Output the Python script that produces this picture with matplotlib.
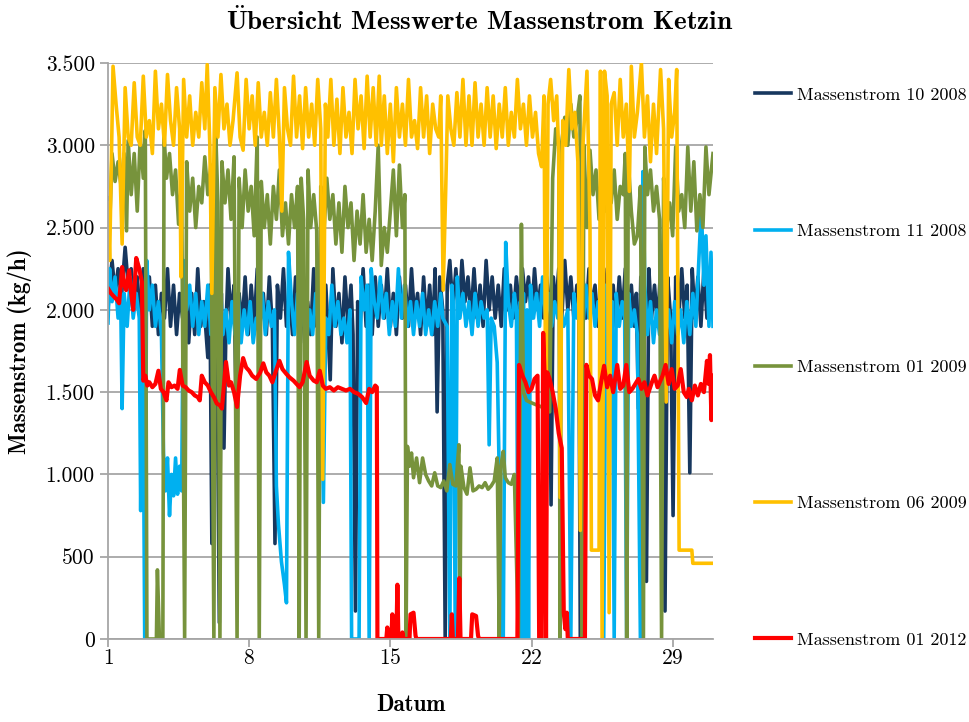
import matplotlib
matplotlib.use('Agg')
import matplotlib.pyplot as plt
from matplotlib.ticker import FixedLocator, MultipleLocator, FuncFormatter

# Schrift wie LaTeX (Computer Modern)
plt.rcParams['font.family'] = ['cmr10', 'DejaVu Serif']
plt.rcParams['mathtext.fontset'] = 'cm'
plt.rcParams['axes.formatter.use_mathtext'] = True

# Massenstrom 10 2008 (dunkelblau)
tage_10_2008 = [1.00, 1.08, 1.20, 1.35, 1.50, 1.65, 1.85, 2.00, 2.15, 2.30, 2.45, 2.60, 2.75, 2.90, 3.05, 3.20,
                3.35, 3.50, 3.65, 3.80, 3.95, 4.10, 4.25, 4.40, 4.55, 4.70, 4.85, 5.00, 5.15, 5.30, 5.45, 5.60,
                5.75, 5.95, 6.05, 6.15, 6.28, 6.40, 6.52, 6.62, 6.75, 6.85, 6.95, 7.10, 7.25, 7.38, 7.50, 7.65,
                7.80, 7.95, 8.10, 8.25, 8.40, 8.55, 8.70, 8.85, 9.00, 9.15, 9.28, 9.40, 9.55, 9.70, 9.85, 10.00,
                10.15, 10.30, 10.45, 10.60, 10.75, 10.90, 11.05, 11.20, 11.35, 11.50, 11.65, 11.80, 11.90, 12.02,
                12.15, 12.30, 12.45, 12.60, 12.75, 12.90, 13.05, 13.15, 13.27, 13.38, 13.50, 13.65, 13.80, 13.95,
                14.10, 14.25, 14.40, 14.55, 14.70, 14.85, 15.00, 15.15, 15.30, 15.45, 15.60, 15.75, 15.90, 16.05,
                16.20, 16.35, 16.50, 16.65, 16.80, 16.95, 17.10, 17.22, 17.32, 17.45, 17.60, 17.72, 17.82, 17.95,
                18.10, 18.25, 18.40, 18.55, 18.70, 18.85, 19.00, 19.15, 19.30, 19.45, 19.60, 19.75, 19.90, 20.05,
                20.20, 20.35, 20.50, 20.65, 20.80, 20.95, 21.10, 21.25, 21.40, 21.55, 21.70, 21.85, 22.00, 22.15,
                22.30, 22.45, 22.60, 22.75, 22.88, 22.97, 23.08, 23.20, 23.35, 23.50, 23.65, 23.80, 23.95, 24.10,
                24.25, 24.35, 24.42, 24.55, 24.70, 24.85, 25.00, 25.15, 25.30, 25.45, 25.60, 25.75, 25.90, 26.05,
                26.20, 26.35, 26.50, 26.65, 26.80, 26.95, 27.10, 27.20, 27.30, 27.42, 27.55, 27.70, 27.82, 27.95,
                28.10, 28.25, 28.40, 28.52, 28.62, 28.75, 28.90, 29.02, 29.15, 29.30, 29.45, 29.60, 29.72, 29.85,
                29.97, 30.10, 30.25, 30.40, 30.55, 30.70, 30.85, 31.00]
werte_10_2008 = [2000, 2150, 2300, 2100, 2250, 2050, 2380, 2150, 2250, 2000, 2200, 1950, 2250, 2050, 2200, 1900,
                 2150, 1850, 2100, 1950, 2250, 1900, 2150, 1850, 2100, 1950, 2200, 1800, 2100, 1850, 2250, 1900,
                 2050, 1710, 2150, 580, 2050, 1900, 100, 2100, 1160, 1900, 2250, 1950, 2150, 1220, 2100, 1900,
                 2200, 1850, 2150, 1900, 2250, 1950, 2100, 1850, 2200, 1900, 580, 2150, 1950, 2250, 1900, 2100,
                 1850, 2200, 1900, 2150, 1800, 2050, 1850, 2250, 1900, 2100, 1850, 2150, 1900, 1575,
                 2250, 1900, 2100, 1800, 2200, 1900, 2150, 1850, 170, 2050, 1900, 2250, 1900, 2150,
                 1850, 2200, 1900, 2150, 1950, 2250, 1900, 2100, 1850, 2200, 1950, 2150, 1900, 2250,
                 1950, 2100, 1850, 2200, 1900, 2150, 1850, 2250, 1380, 2200, 2000, 0, 2150, 2300,
                 2000, 2250, 1950, 2300, 2050, 2200, 1950, 2250, 1950, 2150, 1900, 2300, 2000, 2200,
                 1950, 2150, 1900, 2250, 2000, 2150, 1950, 2200, 2000, 2250, 2050, 2200, 1950, 2250,
                 2000, 2150, 1950, 2200, 2050, 815, 2200, 2000, 2250, 1950, 2300, 2000, 2200, 1950,
                 2150, 1950, 0, 2200, 1950, 2250, 2000, 2150, 1900, 2200, 1950, 2250, 1950, 2150,
                 1900, 2200, 1950, 2250, 1950, 2150, 1900, 2100, 1400, 2200, 2000, 350, 2250, 1950,
                 2150, 1900, 2250, 2100, 170, 2200, 1950, 750, 2200, 1950, 2250, 1950, 2150, 1010,
                 2250, 1950, 2200, 1900, 2250, 1950, 2150, 2100]

# Massenstrom 11 2008 (hellblau)
tage_11_2008 = [1.00, 1.08, 1.20, 1.35, 1.50, 1.62, 1.70, 1.80, 1.95, 2.10, 2.25, 2.40, 2.55, 2.62, 2.72, 2.82,
                2.92, 3.05, 3.20, 3.35, 3.50, 3.65, 3.75, 3.85, 3.95, 4.05, 4.15, 4.25, 4.35, 4.45, 4.55, 4.65,
                4.75, 4.90, 5.05, 5.20, 5.35, 5.50, 5.65, 5.80, 5.95, 6.10, 6.25, 6.40, 6.55, 6.70, 6.85, 7.00,
                7.15, 7.30, 7.45, 7.60, 7.75, 7.90, 8.05, 8.20, 8.35, 8.50, 8.65, 8.80, 8.95, 9.10, 9.25, 9.35,
                9.45, 9.60, 9.75, 9.85, 9.95, 10.10, 10.25, 10.40, 10.55, 10.70, 10.85, 11.00, 11.15, 11.30,
                11.45, 11.55, 11.68, 11.80, 11.95, 12.10, 12.25, 12.40, 12.55, 12.70, 12.85, 13.00, 13.08, 13.45,
                13.55, 13.70, 13.85, 13.95, 14.05, 14.20, 14.35, 14.50, 14.65, 14.80, 14.95, 15.10, 15.25, 15.40,
                15.55, 15.70, 15.85, 16.00, 16.15, 16.30, 16.45, 16.60, 16.75, 16.90, 17.05, 17.20, 17.35, 17.50,
                17.60, 17.82, 17.95, 18.05, 18.12, 18.22, 18.32, 18.45, 18.60, 18.75, 18.90, 19.05, 19.20, 19.35,
                19.50, 19.65, 19.80, 19.90, 20.00, 20.15, 20.30, 20.40, 20.50, 20.60, 20.72, 20.85, 21.00, 21.15,
                21.25, 21.35, 21.45, 21.52, 21.60, 21.68, 21.78, 21.85, 21.95, 22.10, 22.25, 22.40, 22.55, 22.70,
                22.85, 23.00, 23.15, 23.30, 23.45, 23.60, 23.80, 23.95, 24.10, 24.25, 24.40, 24.55, 24.70, 24.85,
                25.00, 25.15, 25.30, 25.45, 25.58, 25.70, 25.85, 26.00, 26.10, 26.20, 26.35, 26.50, 26.62, 26.72,
                26.82, 26.95, 27.10, 27.25, 27.40, 27.52, 27.62, 27.75, 27.90, 28.05, 28.20, 28.35, 28.50, 28.65,
                28.80, 28.95, 29.10, 29.25, 29.40, 29.55, 29.70, 29.85, 30.00, 30.15, 30.30, 30.42, 30.55, 30.65,
                30.80, 30.90, 31.00]
werte_11_2008 = [1920, 2250, 2050, 2200, 1950, 2150, 1400, 2100, 1900, 2200, 1950, 2100, 1950, 780, 2050, 0,
                 2300, 2000, 2150, 1900, 2050, 1850, 1130, 900, 1100, 750, 1000, 870, 1100, 880, 1050, 900,
                 2300, 2000, 2150, 1900, 2100, 1850, 2050, 1900, 2150, 1850, 2050, 1900, 2200, 1850, 2000, 1800,
                 2050, 1850, 2100, 1800, 2000, 1850, 2050, 1800, 1950, 1850, 2100, 1850, 2050, 1900, 2000, 930,
                 700, 470, 330, 220, 2350, 2050, 1850, 2100, 1900, 2050, 1800, 2000, 1850, 2100,
                 1900, 2000, 830, 1950, 1850, 2150, 1900, 2050, 1850, 1950, 1800, 2000, 0, 0,
                 2200, 2000, 2150, 0, 2250, 2050, 1950, 2200, 1950, 2100, 1850, 2050, 1900, 2250,
                 1950, 2150, 1900, 2050, 1850, 2050, 1900, 2100, 1850, 2000, 1850, 2050, 1900, 2100,
                 1950, 1900, 0, 2150, 2050, 0, 2200, 1950, 2100, 1900, 2050, 1850, 2100, 1900,
                 2050, 1950, 2000, 1180, 1950, 1900, 1680, 1000, 0, 0, 2410, 2050, 1900, 2100,
                 2000, 0, 2050, 0, 2100, 0, 2000, 0, 2150, 1950, 2100, 1900, 2200, 1950,
                 2100, 1900, 2050, 1950, 2000, 1900, 2000, 0, 2100, 1950, 2050, 1900, 2150, 1950,
                 2100, 1900, 2050, 1950, 0, 2150, 1950, 2050, 0, 2100, 1900, 2050, 1950, 0,
                 2100, 1900, 2000, 1850, 0, 2840, 2150, 1850, 2050, 1800, 2000, 1850, 2100, 1850,
                 2000, 1800, 2050, 1850, 2000, 1800, 2050, 1850, 2100, 1900, 2300, 2630, 2150, 2450,
                 1900, 2350, 1900]

# Massenstrom 01 2009 (gruen)
tage_01_2009 = [1.00, 1.08, 1.20, 1.35, 1.50, 1.65, 1.80, 1.92, 2.00, 2.15, 2.30, 2.45, 2.60, 2.75, 2.85, 2.93,
                3.40, 3.45, 3.55, 3.72, 3.78, 3.90, 4.05, 4.20, 4.35, 4.50, 4.65, 4.80, 4.90, 5.05, 5.20, 5.35,
                5.50, 5.65, 5.80, 5.95, 6.10, 6.25, 6.35, 6.45, 6.55, 6.65, 6.80, 6.95, 7.10, 7.25, 7.40, 7.50,
                7.65, 7.80, 7.95, 8.10, 8.25, 8.40, 8.50, 8.60, 8.75, 8.90, 9.05, 9.20, 9.35, 9.50, 9.65, 9.80,
                9.95, 10.10, 10.25, 10.40, 10.48, 10.58, 10.70, 10.82, 10.92, 11.05, 11.20, 11.35, 11.45, 11.55,
                11.70, 11.85, 12.00, 12.15, 12.30, 12.45, 12.60, 12.75, 12.90, 13.05, 13.20, 13.35, 13.50, 13.65,
                13.80, 13.95, 14.10, 14.25, 14.40, 14.55, 14.70, 14.85, 15.00, 15.15, 15.30, 15.45, 15.60, 15.72,
                15.78, 15.85, 15.95, 16.05, 16.15, 16.30, 16.45, 16.60, 16.75, 16.90, 17.05, 17.20, 17.35, 17.50,
                17.65, 17.80, 17.95, 18.10, 18.25, 18.40, 18.45, 18.50, 18.65, 18.80, 18.95, 19.10, 19.25, 19.40,
                19.55, 19.70, 19.85, 20.00, 20.15, 20.30, 20.40, 20.48, 20.60, 20.70, 20.85, 21.00, 21.15, 21.35,
                21.50, 21.60, 21.75, 21.90, 22.10, 22.30, 22.50, 22.75, 22.90, 23.05, 23.20, 23.35, 23.42, 23.50,
                23.65, 23.80, 23.95, 24.10, 24.25, 24.40, 24.50, 24.60, 24.75, 24.90, 25.05, 25.20, 25.35, 25.50,
                25.65, 25.80, 25.95, 26.10, 26.25, 26.40, 26.55, 26.65, 26.72, 26.80, 26.95, 27.10, 27.25, 27.40,
                27.55, 27.62, 27.75, 27.90, 28.05, 28.20, 28.35, 28.45, 28.55, 28.70, 28.85, 29.00, 29.15, 29.30,
                29.45, 29.60, 29.75, 29.90, 30.05, 30.20, 30.35, 30.50, 30.65, 30.80, 31.00]
werte_01_2009 = [2680, 2500, 2950, 2780, 2900, 2750, 2950, 2480, 3030, 2700, 2950, 2600, 3050, 2800, 3090, 0,
                 0, 420, 0, 0, 3060, 2800, 2950, 2700, 2850, 2520, 2780, 0, 2900, 2600, 2800, 2500,
                 2750, 2650, 2930, 2700, 2880, 0, 3050, 2650, 0, 2900, 2650, 2850, 2550, 2930, 0, 2800,
                 2500, 2850, 2600, 2750, 2450, 3050, 0, 2780, 2500, 2700, 2400, 2750, 2550, 2850, 2450, 2650,
                 2400, 2700, 2500, 2750, 0, 2800, 2550, 0, 2850, 2500, 2700, 2480, 0, 2750,
                 2450, 2800, 2550, 2700, 2400, 2650, 2350, 2750, 2500, 2650, 2300, 2600, 2400, 2700,
                 2350, 2550, 2300, 2600, 3000, 2270, 2500, 2350, 2600, 2850, 2450, 2880, 2500, 2700,
                 0, 1170, 1050, 1130, 980, 1100, 950, 1100, 1000, 960, 930, 1010, 930, 920,
                 960, 900, 1060, 940, 930, 1180, 0, 1050, 920, 880, 1040, 900, 910, 930,
                 920, 950, 910, 930, 960, 1100, 0, 1050, 1140, 980, 950, 940, 1000, 0,
                 2520, 1500, 1450, 1440, 1430, 1420, 1410, 1400, 1380, 2800, 3100, 3000, 0, 3020,
                 3170, 3000, 3250, 3050, 3150, 3300, 0, 3000, 2500, 2970, 2700, 2850, 2550, 2900,
                 2600, 2800, 2650, 2850, 2550, 2750, 2700, 2950, 0, 2900, 2600, 2400, 2450, 2750,
                 0, 2990, 2700, 2850, 2600, 2750, 2550, 0, 2800, 2500, 2650, 2450, 2990, 2600,
                 2700, 2500, 2990, 2600, 2900, 2480, 2700, 2500, 2990, 2700, 2950]

# Massenstrom 06 2009 (gelb)
tage_06_2009 = [1.00, 1.08, 1.25, 1.40, 1.55, 1.70, 1.85, 2.00, 2.15, 2.30, 2.45, 2.60, 2.75, 2.90, 3.05, 3.20,
                3.35, 3.50, 3.65, 3.80, 3.95, 4.10, 4.25, 4.40, 4.55, 4.62, 4.75, 4.90, 5.05, 5.20, 5.35, 5.50,
                5.65, 5.80, 5.92, 6.05, 6.15, 6.30, 6.45, 6.60, 6.75, 6.90, 7.05, 7.20, 7.40, 7.55, 7.70, 7.85,
                8.00, 8.15, 8.30, 8.45, 8.60, 8.75, 8.90, 9.05, 9.20, 9.35, 9.50, 9.62, 9.75, 9.90, 10.05, 10.20,
                10.35, 10.50, 10.65, 10.80, 10.95, 11.10, 11.25, 11.40, 11.55, 11.65, 11.78, 11.90, 12.05, 12.20,
                12.35, 12.50, 12.65, 12.80, 12.95, 13.10, 13.25, 13.40, 13.55, 13.70, 13.85, 14.00, 14.15, 14.30,
                14.45, 14.55, 14.70, 14.85, 15.00, 15.15, 15.30, 15.45, 15.60, 15.75, 15.90, 16.05, 16.20, 16.35,
                16.50, 16.65, 16.80, 16.95, 17.10, 17.25, 17.40, 17.50, 17.62, 17.75, 17.85, 18.00, 18.15, 18.30,
                18.45, 18.60, 18.75, 18.90, 19.05, 19.20, 19.35, 19.50, 19.65, 19.80, 19.95, 20.10, 20.25, 20.40,
                20.55, 20.70, 20.85, 21.00, 21.15, 21.30, 21.45, 21.60, 21.75, 21.90, 22.05, 22.20, 22.35, 22.50,
                22.62, 22.72, 22.82, 22.95, 23.10, 23.25, 23.35, 23.42, 23.55, 23.70, 23.85, 24.00, 24.15, 24.30,
                24.42, 24.55, 24.75, 24.90, 24.97, 25.35, 25.42, 25.50, 25.62, 25.75, 25.85, 25.95, 26.10, 26.25,
                26.40, 26.55, 26.70, 26.85, 26.95, 27.10, 27.25, 27.45, 27.60, 27.75, 27.90, 28.05, 28.20, 28.40,
                28.55, 28.68, 28.80, 28.95, 29.10, 29.20, 29.32, 29.95, 30.00, 31.00]
werte_06_2009 = [2650, 2300, 3480, 3250, 3050, 2400, 3350, 3050, 3000, 3380, 3050, 3000, 3420, 3050, 3150, 2950,
                 3450, 3100, 3250, 3000, 3430, 3150, 3000, 3350, 3100, 2200, 3400, 3050, 3300, 3000, 3200, 3050,
                 3380, 3100, 3490, 3000, 2100, 3350, 3050, 3430, 3100, 3250, 3000, 3150, 3440, 3050, 2970, 3400,
                 3100, 3300, 3000, 3380, 3050, 3200, 3000, 3320, 3050, 3400, 3050, 2600, 3350, 3100, 3000, 3420,
                 3050, 3300, 2980, 3350, 3050, 3250, 3000, 3400, 3100, 970, 3250, 3050, 3400, 3000,
                 3280, 2950, 3350, 3050, 3200, 2950, 3400, 3100, 3300, 2980, 3420, 3050, 3350, 3000,
                 3420, 3000, 3300, 2950, 3250, 2900, 3350, 3050, 3250, 3000, 3400, 3050, 3150, 2980,
                 3350, 3050, 3300, 2950, 3250, 3100, 3050, 3300, 2120, 2750, 3300, 3100, 3000, 3320,
                 3050, 3400, 3000, 3300, 3000, 3380, 3050, 3250, 3000, 3350, 3050, 3300, 2980, 3250,
                 3050, 3350, 3000, 3200, 3050, 3400, 3100, 3250, 3000, 3300, 3050, 3200, 2950, 2870,
                 3300, 1000, 3250, 3400, 3150, 3300, 2950, 860, 3150, 3000, 3460, 3100, 3200, 2900,
                 660, 3000, 3450, 2500, 540, 540, 3450, 0, 3450, 3300, 160, 3250, 3320, 3000,
                 3400, 3050, 3250, 2720, 3480, 3050, 3200, 3500, 3050, 3300, 2900, 3250, 2950, 3460,
                 3100, 1440, 3400, 3050, 3200, 3460, 540, 540, 460, 460]

# Massenstrom 01 2012 (rot)
tage_01_2012 = [1.00, 1.15, 1.30, 1.45, 1.55, 1.70, 1.80, 1.90, 2.05, 2.15, 2.25, 2.40, 2.55, 2.68, 2.75, 2.85,
                2.95, 3.05, 3.20, 3.35, 3.50, 3.62, 3.75, 3.90, 4.00, 4.15, 4.30, 4.45, 4.56, 4.70, 4.85, 5.00,
                5.15, 5.30, 5.45, 5.55, 5.65, 5.80, 5.95, 6.10, 6.25, 6.40, 6.55, 6.65, 6.85, 7.00, 7.10, 7.25,
                7.40, 7.55, 7.70, 7.85, 8.00, 8.15, 8.35, 8.55, 8.70, 8.85, 9.00, 9.15, 9.30, 9.50, 9.65, 9.85,
                10.00, 10.20, 10.35, 10.50, 10.65, 10.85, 11.00, 11.20, 11.35, 11.50, 11.65, 11.80, 12.00, 12.20,
                12.40, 12.60, 12.80, 13.00, 13.20, 13.40, 13.60, 13.80, 13.95, 14.10, 14.25, 14.33, 14.36, 14.80,
                14.85, 14.90, 15.05, 15.10, 15.15, 15.30, 15.35, 15.40, 15.55, 15.60, 15.65, 15.95, 16.00, 16.15,
                16.25, 16.30, 18.00, 18.05, 18.10, 18.35, 18.42, 18.48, 19.00, 19.06, 19.25, 19.35, 19.40, 21.30,
                21.38, 21.55, 21.70, 21.85, 22.00, 22.15, 22.30, 22.38, 22.50, 22.58, 22.66, 22.72, 22.78, 22.90,
                23.05, 23.20, 23.35, 23.50, 23.60, 23.68, 23.75, 23.80, 24.65, 24.72, 24.85, 25.00, 25.15, 25.30,
                25.45, 25.60, 25.75, 25.90, 26.05, 26.25, 26.40, 26.55, 26.70, 26.85, 27.00, 27.15, 27.30, 27.45,
                27.60, 27.75, 27.97, 28.10, 28.25, 28.50, 28.65, 28.80, 28.95, 29.10, 29.25, 29.40, 29.55, 29.70,
                29.80, 29.95, 30.10, 30.25, 30.40, 30.55, 30.70, 30.78, 30.85, 30.92, 31.00]
werte_01_2012 = [2130, 2100, 2080, 2060, 2040, 2260, 2150, 2120, 2240, 2100, 2000, 2315, 2250, 2170, 1570, 1600,
                 1540, 1560, 1530, 1550, 1630, 1520, 1500, 1450, 1560, 1530, 1540, 1520, 1635, 1540, 1530, 1510,
                 1500, 1480, 1470, 1450, 1600, 1560, 1540, 1500, 1470, 1430, 1420, 1400, 1683, 1540, 1560, 1500,
                 1410, 1600, 1707, 1650, 1630, 1600, 1580, 1620, 1675, 1620, 1600, 1560, 1620, 1690, 1640, 1610,
                 1590, 1570, 1550, 1530, 1560, 1683, 1600, 1570, 1560, 1630, 1540, 1520, 1530, 1510,
                 1530, 1520, 1510, 1520, 1500, 1490, 1470, 1434, 1520, 1500, 1540, 1530, 0, 0,
                 70, 0, 0, 150, 0, 0, 330, 0, 0, 40, 0, 0, 150, 160,
                 20, 0, 0, 150, 0, 0, 370, 0, 0, 150, 140, 20, 0, 0,
                 1665, 1600, 1560, 1500, 1520, 1580, 1600, 0, 0, 1860, 1550, 0, 1620, 1580,
                 1500, 1400, 1250, 1160, 160, 60, 160, 0, 0, 1666, 1600, 1580, 1480, 1450,
                 1560, 1660, 1530, 1600, 1500, 1665, 1520, 1540, 1665, 1500, 1520, 1550, 1580, 1520,
                 1560, 1480, 1560, 1600, 1530, 1600, 1665, 1550, 1640, 1520, 1540, 1640, 1500, 1470,
                 1520, 1450, 1540, 1480, 1550, 1500, 1690, 1550, 1725, 1330, 1600]

reihen = [
    ('Massenstrom 10 2008', tage_10_2008, werte_10_2008, '#17375E', 2.6),
    ('Massenstrom 11 2008', tage_11_2008, werte_11_2008, '#00B0F0', 2.6),
    ('Massenstrom 01 2009', tage_01_2009, werte_01_2009, '#77933C', 2.6),
    ('Massenstrom 06 2009', tage_06_2009, werte_06_2009, '#FFC000', 2.6),
    ('Massenstrom 01 2012', tage_01_2012, werte_01_2012, '#FF0000', 3.0),
]

fig = plt.figure(figsize=(9.69, 7.22), dpi=100)
ax = fig.add_axes([108 / 969, 1 - 639 / 722, (713 - 108) / 969, (639 - 63) / 722])

for name, x, y, farbe, lw in reihen:
    ax.plot(x, y, color=farbe, lw=lw, label=name, solid_joinstyle='round')

ax.set_xlim(1, 31)
ax.set_ylim(0, 3500)
ax.xaxis.set_major_locator(FixedLocator([1, 8, 15, 22, 29]))
ax.yaxis.set_major_locator(MultipleLocator(500))
ax.yaxis.set_major_formatter(FuncFormatter(lambda v, p: f'{int(v):,}'.replace(',', '.')))

ax.grid(axis='y', color='#A6A6A6', lw=1.3)
ax.set_axisbelow(True)
for s in ['top', 'right']:
    ax.spines[s].set_visible(False)
for s in ['left', 'bottom']:
    ax.spines[s].set_color('#A6A6A6')
    ax.spines[s].set_linewidth(1.3)
ax.tick_params(axis='both', colors='#A6A6A6', labelcolor='black', labelsize=15.5, length=6, width=1.3)
ax.tick_params(axis='x', pad=0.5)

ax.set_xlabel('Datum', fontsize=16.5, family='cmb10', labelpad=19)
ax.set_ylabel('Massenstrom (kg/h)', fontsize=16.5, family='cmb10', labelpad=10)
fig.text(480 / 969, 1 - 21 / 722, r'$\ddot{\mathbf{U}}$bersicht Messwerte Massenstrom Ketzin',
         ha='center', va='center', fontsize=19.5, family='cmb10')

ax.legend(loc='upper left', bbox_to_anchor=(755 / 969, 1 - 87 / 722), bbox_transform=fig.transFigure,
          frameon=False, fontsize=13, handlelength=2.0, handletextpad=0.3, labelspacing=6.68,
          borderpad=0, borderaxespad=0)

fig.savefig('out.png', dpi=100)
